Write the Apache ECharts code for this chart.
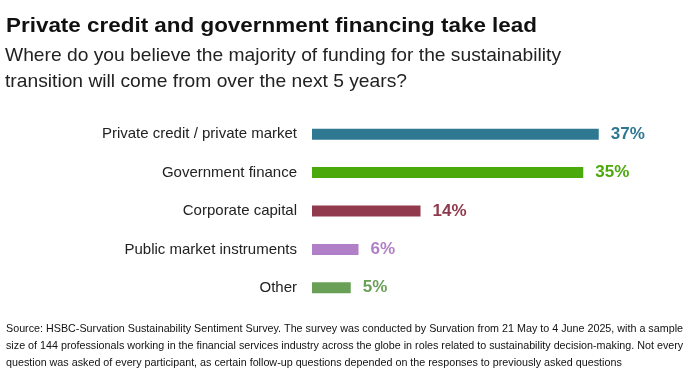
<!DOCTYPE html>
<html><head><meta charset="utf-8">
<script src="https://cdn.jsdelivr.net/npm/echarts@6/dist/echarts.min.js"></script>
<style>html,body{margin:0;padding:0;background:#fff}#c{width:696px;height:390px}</style>
</head><body><div id="c"></div>
<script>
const categories = ["Private credit / private market","Government finance","Corporate capital","Public market instruments","Other"];
const values = [37,35,14,6,5];
const colors = ["#2f7891","#4ca90c","#913a4d","#b07fc7","#6a9f58"];
const titleText = "Private credit and government financing take lead";
const subtitleLines = ["Where do you believe the majority of funding for the sustainability","transition will come from over the next 5 years?"];
const sourceLines = [
  "Source: HSBC-Survation Sustainability Sentiment Survey. The survey was conducted by Survation from 21 May to 4 June 2025, with a sample",
  "size of 144 professionals working in the financial services industry across the globe in roles related to sustainability decision-making. Not every",
  "question was asked of every participant, as certain follow-up questions depended on the responses to previously asked questions"
];

const FF = '"Liberation Sans", Arial, sans-serif';
const ctx = document.createElement('canvas').getContext('2d');
function w(text, size, weight){ ctx.font = (weight||'normal') + ' ' + size + 'px ' + FF; return ctx.measureText(text).width; }

const titleSize = 20, subSize = 19, srcSize = 11;
const titleScale = 531 / w(titleText, titleSize, 'bold');
const subScale = 556 / w(subtitleLines[0], subSize);
const srcScale = 677 / w(sourceLines[0], srcSize);

function txt(text, x, y, size, weight, color, sx){
  return {type:'text', x:x, y:y, scaleX:sx, originX:0, originY:0, silent:true,
    style:{text:text, fontSize:size, fontWeight:weight, fontFamily:FF, fill:color, verticalAlign:'middle', align:'left'}};
}
const graphics = [txt(titleText, 6, 26, titleSize, 'bold', '#111', titleScale)];
subtitleLines.forEach((t,i)=>graphics.push(txt(t, 5, 55.5 + i*26, subSize, 'normal', '#222', subScale)));
sourceLines.forEach((t,i)=>graphics.push(txt(t, 6, 329 + i*17, srcSize, 'normal', '#111', srcScale)));

const chart = echarts.init(document.getElementById('c'));
chart.setOption({
  animation:false,
  graphic:graphics,
  grid:{left:312,right:74,top:115,bottom:83},
  xAxis:{type:'value',min:0,max:40,show:false},
  yAxis:{type:'category',data:categories,inverse:true,axisLine:{show:false},axisTick:{show:false},
    axisLabel:{fontFamily:FF,fontSize:15,color:'#222',margin:15}},
  series:[{type:'bar',barWidth:11,
    data:values.map((v,i)=>({value:v,itemStyle:{color:colors[i]},label:{color:colors[i]}})),
    label:{show:true,position:'right',distance:12,formatter:'{c}%',fontFamily:FF,fontWeight:'bold',fontSize:17}
  }]
});
</script></body></html>
